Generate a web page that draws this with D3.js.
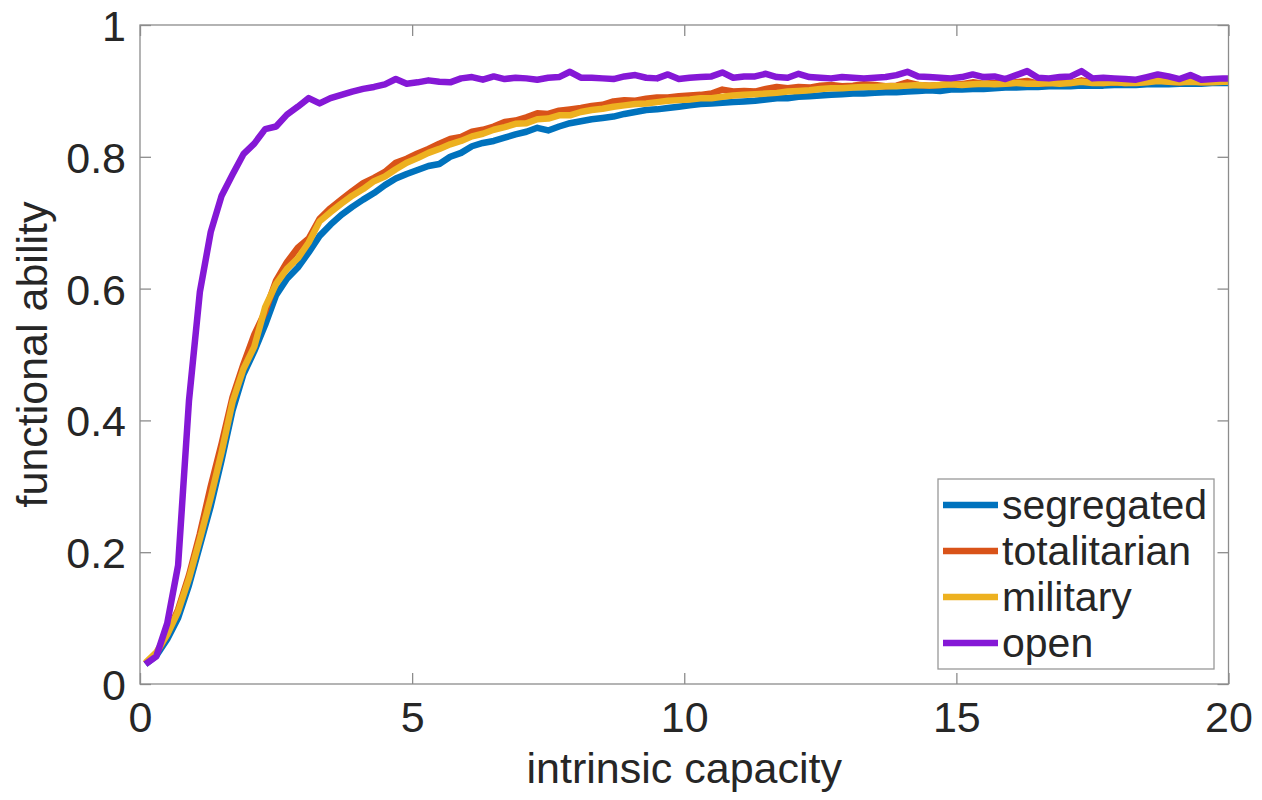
<!DOCTYPE html>
<html>
<head>
<meta charset="utf-8">
<script src="https://cdn.jsdelivr.net/npm/d3@7"></script>
<style>
  body { margin: 0; background: #fff; }
  text { font-family: "Liberation Sans", Arial, Helvetica, sans-serif; fill: #262626; }
</style>
</head>
<body>
<svg width="1262" height="800"></svg>
<script>
// sample grid (intrinsic capacity)
const capacity = [
  0.1, 0.3, 0.5, 0.7, 0.9, 1.1, 1.3, 1.5, 1.7, 1.9,
  2.1, 2.3, 2.5, 2.7, 2.9, 3.1, 3.3, 3.5, 3.7, 3.9,
  4.1, 4.3, 4.5, 4.7, 4.9, 5.1, 5.3, 5.5, 5.7, 5.9,
  6.1, 6.3, 6.5, 6.7, 6.9, 7.1, 7.3, 7.5, 7.7, 7.9,
  8.1, 8.3, 8.5, 8.7, 8.9, 9.1, 9.3, 9.5, 9.7, 9.9,
  10.1, 10.3, 10.5, 10.7, 10.9, 11.1, 11.3, 11.5, 11.7, 11.9,
  12.1, 12.3, 12.5, 12.7, 12.9, 13.1, 13.3, 13.5, 13.7, 13.9,
  14.1, 14.3, 14.5, 14.7, 14.9, 15.1, 15.3, 15.5, 15.7, 15.9,
  16.1, 16.3, 16.5, 16.7, 16.9, 17.1, 17.3, 17.5, 17.7, 17.9,
  18.1, 18.3, 18.5, 18.7, 18.9, 19.1, 19.3, 19.5, 19.7, 19.9,
  20.0
];

// functional ability per society type
const segregated = [
  0.030, 0.043, 0.068, 0.100, 0.150, 0.210, 0.270, 0.340, 0.415, 0.470,
  0.505, 0.545, 0.590, 0.615, 0.632, 0.655, 0.680, 0.697, 0.712, 0.724,
  0.735, 0.745, 0.757, 0.767, 0.774, 0.780, 0.786, 0.789, 0.800, 0.806,
  0.816, 0.821, 0.824, 0.829, 0.834, 0.838, 0.844, 0.840, 0.846, 0.851,
  0.854, 0.857, 0.859, 0.861, 0.865, 0.868, 0.871, 0.872, 0.874, 0.876,
  0.878, 0.880, 0.881, 0.882, 0.883, 0.884, 0.885, 0.887, 0.889, 0.889,
  0.891, 0.892, 0.893, 0.894, 0.895, 0.896, 0.896, 0.897, 0.898, 0.898,
  0.899, 0.900, 0.901, 0.900, 0.902, 0.902, 0.903, 0.903, 0.904, 0.905,
  0.905, 0.906, 0.906, 0.907, 0.907, 0.907, 0.908, 0.908, 0.908, 0.909,
  0.909, 0.909, 0.910, 0.910, 0.910, 0.911, 0.911, 0.911, 0.912, 0.912,
  0.912
];
const totalitarian = [
  0.031, 0.046, 0.076, 0.113, 0.165, 0.228, 0.300, 0.365, 0.435, 0.485,
  0.530, 0.565, 0.612, 0.640, 0.662, 0.676, 0.706, 0.722, 0.735, 0.748,
  0.760, 0.768, 0.777, 0.791, 0.797, 0.805, 0.812, 0.820, 0.827, 0.830,
  0.838, 0.841, 0.846, 0.853, 0.855, 0.860, 0.866, 0.865, 0.870, 0.872,
  0.874, 0.877, 0.879, 0.884, 0.886, 0.885, 0.888, 0.890, 0.890, 0.892,
  0.893, 0.894, 0.896, 0.902, 0.899, 0.900, 0.899, 0.903, 0.906, 0.904,
  0.906, 0.905, 0.908, 0.909, 0.907, 0.908, 0.910, 0.909, 0.907, 0.908,
  0.913, 0.909, 0.908, 0.909, 0.911, 0.910, 0.913, 0.911, 0.912, 0.911,
  0.913, 0.915, 0.911, 0.912, 0.913, 0.912, 0.916, 0.913, 0.912, 0.913,
  0.912, 0.913, 0.914, 0.917, 0.914, 0.913, 0.915, 0.913, 0.914, 0.916,
  0.915
];
const military = [
  0.032, 0.048, 0.075, 0.110, 0.160, 0.220, 0.283, 0.352, 0.428, 0.478,
  0.512, 0.572, 0.607, 0.630, 0.646, 0.670, 0.702, 0.716, 0.729, 0.741,
  0.751, 0.763, 0.770, 0.781, 0.791, 0.798, 0.806, 0.812, 0.819, 0.824,
  0.831, 0.835, 0.841, 0.845, 0.850, 0.851, 0.857, 0.858, 0.863, 0.863,
  0.868, 0.871, 0.873, 0.876, 0.878, 0.880, 0.881, 0.883, 0.885, 0.886,
  0.887, 0.889, 0.889, 0.891, 0.893, 0.894, 0.895, 0.896, 0.897, 0.899,
  0.900, 0.901, 0.903, 0.904, 0.904, 0.905, 0.906, 0.906, 0.907, 0.907,
  0.908, 0.909, 0.908, 0.909, 0.910, 0.909, 0.910, 0.911, 0.910, 0.911,
  0.912, 0.911, 0.911, 0.912, 0.911, 0.912, 0.914, 0.912, 0.912, 0.913,
  0.912, 0.912, 0.913, 0.915, 0.914, 0.913, 0.914, 0.913, 0.913, 0.914,
  0.914
];
const openSociety = [
  0.030, 0.042, 0.092, 0.180, 0.430, 0.595, 0.686, 0.741, 0.773, 0.804,
  0.820, 0.842, 0.846, 0.864, 0.876, 0.889, 0.881, 0.889, 0.894, 0.899,
  0.903, 0.906, 0.910, 0.918, 0.911, 0.913, 0.916, 0.914, 0.913, 0.919,
  0.921, 0.917, 0.922, 0.918, 0.920, 0.919, 0.917, 0.920, 0.921, 0.929,
  0.920, 0.920, 0.919, 0.918, 0.922, 0.924, 0.920, 0.919, 0.925, 0.918,
  0.920, 0.921, 0.922, 0.928, 0.920, 0.922, 0.922, 0.926, 0.921, 0.920,
  0.926, 0.921, 0.920, 0.919, 0.921, 0.920, 0.919, 0.920, 0.921, 0.924,
  0.929, 0.922, 0.921, 0.920, 0.919, 0.921, 0.925, 0.921, 0.922, 0.918,
  0.924, 0.930, 0.920, 0.919, 0.921, 0.922, 0.930, 0.919, 0.920, 0.919,
  0.918, 0.917, 0.921, 0.925, 0.922, 0.918, 0.924, 0.917, 0.918, 0.919,
  0.919
];

const seriesNames = ['segregated', 'totalitarian', 'military', 'open'];
const seriesColors = ['#0072bd', '#d95319', '#edb120', '#8518d6'];
const seriesValues = [segregated, totalitarian, military, openSociety];

const xTicks = [0, 5, 10, 15, 20];
const yTicks = [0, 0.2, 0.4, 0.6, 0.8, 1];

const svg = d3.select('svg');
const plotLeft = 140, plotRight = 1228.5, plotTop = 25, plotBottom = 684;
const fontSize = 43;

const x = d3.scaleLinear().domain([0, 20]).range([plotLeft, plotRight]);
const y = d3.scaleLinear().domain([0, 1]).range([plotBottom, plotTop]);

// lines
const line = d3.line()
  .x((d, i) => x(capacity[i]))
  .y(d => y(d));

svg.append('g')
  .selectAll('path')
  .data(seriesValues)
  .join('path')
  .attr('d', line)
  .attr('fill', 'none')
  .attr('stroke', (d, i) => seriesColors[i])
  .attr('stroke-width', 6.5)
  .attr('stroke-linejoin', 'round')
  .attr('stroke-linecap', 'butt');

// axes (box with inward ticks on all sides)
const axisColor = '#8c8c8c';
const tickLen = 11;

const xAxis = svg.append('g')
  .attr('transform', `translate(0,${plotBottom})`)
  .call(d3.axisBottom(x).tickValues(xTicks).tickSizeInner(-tickLen).tickSizeOuter(0).tickFormat(d3.format('d')));
xAxis.selectAll('text').attr('y', 48).attr('dy', 0).style('font-size', fontSize + 'px');

const yAxis = svg.append('g')
  .attr('transform', `translate(${plotLeft},0)`)
  .call(d3.axisLeft(y).tickValues(yTicks).tickSizeInner(-tickLen).tickSizeOuter(0)
    .tickFormat(d => d === 0 || d === 1 ? d3.format('d')(d) : d3.format('.1f')(d)));
yAxis.selectAll('text').attr('x', -14).attr('dy', '0.36em').style('font-size', fontSize + 'px');

svg.append('g')
  .attr('transform', `translate(0,${plotTop})`)
  .call(d3.axisTop(x).tickValues(xTicks).tickSizeInner(-tickLen).tickSizeOuter(0).tickFormat(''));
svg.append('g')
  .attr('transform', `translate(${plotRight},0)`)
  .call(d3.axisRight(y).tickValues(yTicks).tickSizeInner(-tickLen).tickSizeOuter(0).tickFormat(''));

svg.selectAll('.domain').remove();
svg.selectAll('.tick line').attr('stroke', axisColor).attr('stroke-width', 1.3);
svg.selectAll('.tick text').attr('fill', '#262626').attr('font-family', null);

svg.append('rect')
  .attr('x', plotLeft).attr('y', plotTop)
  .attr('width', plotRight - plotLeft).attr('height', plotBottom - plotTop)
  .attr('fill', 'none')
  .attr('stroke', axisColor)
  .attr('stroke-width', 1.3);

// axis labels
svg.append('text')
  .attr('x', (plotLeft + plotRight) / 2)
  .attr('y', 783)
  .attr('text-anchor', 'middle')
  .style('font-size', fontSize + 'px')
  .text('intrinsic capacity');

svg.append('text')
  .attr('transform', `translate(47,${(plotTop + plotBottom) / 2}) rotate(-90)`)
  .attr('text-anchor', 'middle')
  .style('font-size', fontSize + 'px')
  .text('functional ability');

// legend
const legend = svg.append('g');
legend.append('rect')
  .attr('x', 938).attr('y', 479)
  .attr('width', 276).attr('height', 190)
  .attr('fill', '#fff')
  .attr('stroke', '#999')
  .attr('stroke-width', 1.3);

const item = legend.selectAll('g.item')
  .data(seriesNames)
  .join('g')
  .attr('class', 'item')
  .attr('transform', (d, i) => `translate(0,${505 + i * 46})`);

item.append('line')
  .attr('x1', 943).attr('x2', 998)
  .attr('stroke', (d, i) => seriesColors[i])
  .attr('stroke-width', 6.5);

item.append('text')
  .attr('x', 1002)
  .attr('dy', '0.34em')
  .style('font-size', '41px')
  .text(d => d);
</script>
</body>
</html>
